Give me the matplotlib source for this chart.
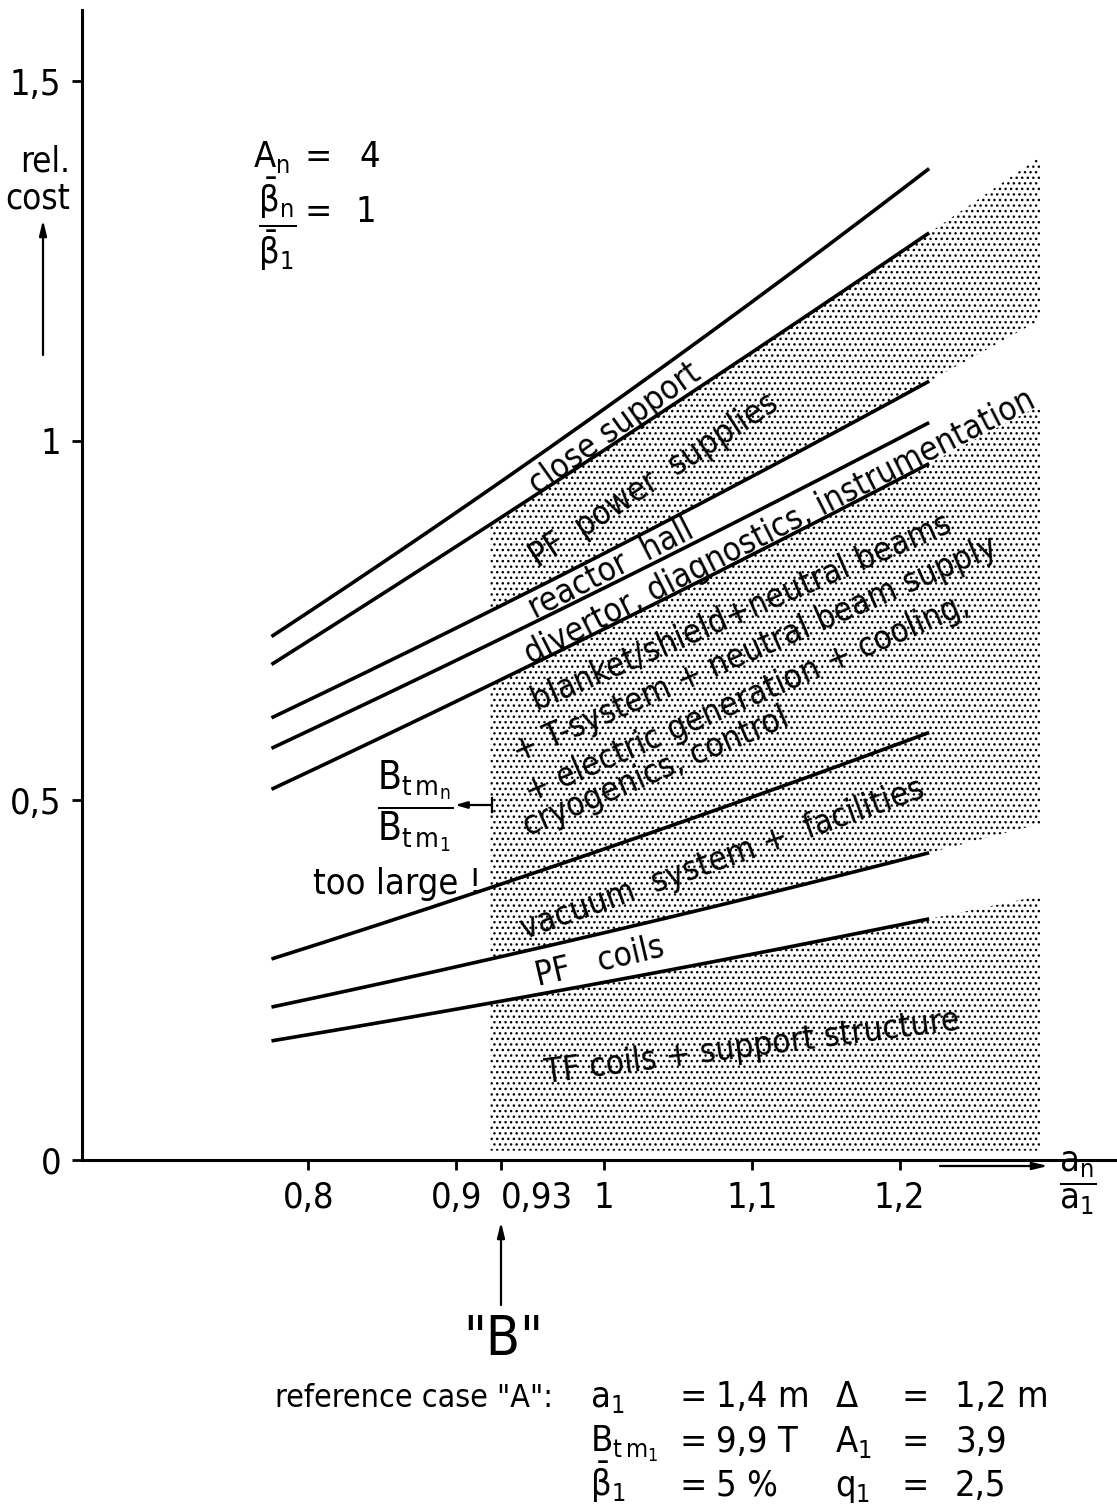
import numpy as np
import matplotlib.pyplot as plt
from matplotlib.lines import Line2D

W, H = 1117, 1511

ratio = [0.775, 0.9, 1.0, 1.1, 1.22]

# relative cost, cumulative curves (top to bottom)
close_support = [0.729, 0.898, 1.045, 1.195, 1.378]
pf_power = [0.690, 0.852, 0.985, 1.127, 1.288]
reactor_hall = [0.615, 0.740, 0.843, 0.951, 1.083]
divertor = [0.573, 0.694, 0.795, 0.900, 1.025]
blanket = [0.516, 0.637, 0.738, 0.843, 0.968]
vacuum = [0.280, 0.362, 0.432, 0.506, 0.594]
pf_coils = [0.213, 0.268, 0.316, 0.366, 0.427]
tf_coils = [0.166, 0.209, 0.247, 0.287, 0.335]

xtick_vals = [0.8, 0.9, 0.93, 1.0, 1.1, 1.2]
xtick_labels = ['0,8', '0,9', '0,93', '1', '1,1', '1,2']
ytick_vals = [0, 0.5, 1.0, 1.5]
ytick_labels = ['0', '0,5', '1', '1,5']

# stippled region in a_n/a_1
shade_from, shade_to = 0.923, 1.295

plt.rcParams['font.family'] = ['DejaVu Sans']
plt.rcParams['font.stretch'] = 'condensed'
plt.rcParams['mathtext.fontset'] = 'dejavusans'
plt.rcParams['mathtext.default'] = 'regular'
plt.rcParams['hatch.linewidth'] = 1.0

# pixels per data unit of the axes below
PX_X, PX_Y = 1478.0, 719.0


def fx(px):
    return px / W


def fy(py):
    return 1 - py / H


def fit(c):
    return np.poly1d(np.polyfit(ratio, c, 2))


def screen_angle(curves, x):
    # mean on-screen angle of the given curves at x
    slopes = [fit(c).deriv()(x) for c in curves]
    return np.degrees(np.arctan(np.mean(slopes) * PX_Y / PX_X))


fig = plt.figure(figsize=(W / 100, H / 100), dpi=100)
ax = fig.add_axes([82 / W, (H - 1160) / H, (W - 82) / W, 1150 / H])
ax.set_xlim(0.6468, 1.3471)
ax.set_ylim(0, 1.5994)
for s in ['top', 'right']:
    ax.spines[s].set_visible(False)
for s in ['left', 'bottom']:
    ax.spines[s].set_linewidth(2.2)

ax.set_xticks(xtick_vals, xtick_labels)
ax.set_yticks(ytick_vals, ytick_labels)
ax.tick_params(axis='both', direction='out', length=7, width=2, labelsize=26, pad=8)
# the 0,93 label sits to the right of its tick
ax.xaxis.get_major_ticks()[2].label1.set_horizontalalignment('left')

# stippled bands
xs = np.linspace(shade_from, shade_to, 200)
bands = [(pf_power, reactor_hall), (blanket, pf_coils), (tf_coils, None)]
for upper, lower in bands:
    up = fit(upper)(xs)
    lo = fit(lower)(xs) if lower is not None else np.full_like(xs, 0.013)
    ax.fill_between(xs, lo, up, facecolor='none', edgecolor='black',
                    hatch='...', linewidth=0)

# curves
xx = np.linspace(ratio[0], ratio[-1], 200)
for c in [close_support, pf_power, reactor_hall, divertor, blanket,
          vacuum, pf_coils, tf_coils]:
    ax.plot(xx, fit(c)(xx), color='black', lw=2.6, solid_capstyle='butt')

# labels along the curves: text, x, y, curves giving the slope
labels = [
    ('close support', 1.007, 1.017, [close_support]),
    ('PF  power  supplies', 1.034, 0.945, [pf_power]),
    ('reactor  hall', 1.005, 0.822, [reactor_hall]),
    ('divertor, diagnostics, instrumentation', 1.119, 0.880, [divertor]),
    ('blanket/shield+neutral beams', 1.093, 0.762, [blanket, vacuum]),
    ('+ T-system + neutral beam supply', 1.102, 0.709, [blanket, vacuum]),
    ('+ electric generation + cooling,', 1.097, 0.642, [blanket, vacuum]),
    ('cryogenics, control', 1.035, 0.540, [blanket, vacuum]),
    ('vacuum  system +  facilities', 1.080, 0.418, [vacuum]),
    ('PF   coils', 0.997, 0.276, [pf_coils]),
    ('TF coils + support structure', 1.100, 0.157, [tf_coils, tf_coils, None]),
]
for text, x, y, follow in labels:
    curves = [c for c in follow if c is not None]
    ang = screen_angle(curves, x) * len(curves) / len(follow)
    ax.text(x, y, text, rotation=ang, rotation_mode='anchor',
            ha='center', va='center', fontsize=24)

# axis captions and arrows
arrow = dict(arrowstyle='-|>,head_length=0.9,head_width=0.22', color='black',
             lw=1.6, shrinkA=0, shrinkB=0)
fig.text(fx(70), fy(180), 'rel.\ncost', ha='right', va='center', fontsize=25,
         linespacing=1.1)
ax.annotate('', xy=(fx(43), fy(220)), xytext=(fx(43), fy(355)),
            xycoords='figure fraction', textcoords='figure fraction',
            arrowprops=arrow)
ax.annotate('', xy=(fx(1048), fy(1166)), xytext=(fx(940), fy(1166)),
            xycoords='figure fraction', textcoords='figure fraction',
            arrowprops=arrow)
fig.text(fx(1078), fy(1183), r'$\dfrac{a_n}{a_1}$', ha='center', va='center',
         fontsize=26)

ax.annotate('', xy=(fx(501), fy(1222)), xytext=(fx(501), fy(1305)),
            xycoords='figure fraction', textcoords='figure fraction',
            arrowprops=arrow)
fig.text(fx(503), fy(1340), '"B"', ha='center', va='center', fontsize=40)

# parameter box top left
fig.text(fx(253), fy(157), r'$A_n$', ha='left', va='center', fontsize=26)
fig.text(fx(318), fy(157), '=', ha='center', va='center', fontsize=26)
fig.text(fx(370), fy(157), '4', ha='center', va='center', fontsize=26)
fig.text(fx(277), fy(224), r'$\dfrac{\bar{\beta}_n}{\bar{\beta}_1}$',
         ha='center', va='center', fontsize=26)
fig.text(fx(318), fy(212), '=', ha='center', va='center', fontsize=26)
fig.text(fx(366), fy(212), '1', ha='center', va='center', fontsize=26)

# B_tm note
fig.text(fx(415), fy(806), r'$\dfrac{B_{t\,m_n}}{B_{t\,m_1}}$', ha='center',
         va='center', fontsize=28)
ax.annotate('', xy=(fx(455), fy(805)), xytext=(fx(492), fy(805)),
            xycoords='figure fraction', textcoords='figure fraction',
            arrowprops=dict(arrowstyle='-|>,head_length=0.7,head_width=0.2',
                            color='black', lw=1.6, shrinkA=0, shrinkB=0))
fig.add_artist(Line2D([fx(492), fx(492)], [fy(798), fy(812)], color='black',
                      lw=1.6))
fig.text(fx(397), fy(884), 'too large !', ha='center', va='center', fontsize=26)

# reference case block
rows = [1407, 1452, 1496]
fig.text(fx(275), fy(rows[0]), 'reference case "A":', ha='left',
         va='baseline', fontsize=23)
col1 = [(r'$a_1$', '1,4 m'), (r'$B_{t\,m_1}$', '9,9 T'), (r'$\bar{\beta}_1$', '5 %')]
col2 = [(r'$\Delta$', '1,2 m'), (r'$A_1$', '3,9'), (r'$q_1$', '2,5')]
for yb, (name, val) in zip(rows, col1):
    fig.text(fx(590), fy(yb), name, ha='left', va='baseline', fontsize=26)
    fig.text(fx(693), fy(yb), '=', ha='center', va='baseline', fontsize=26)
    fig.text(fx(716), fy(yb), val, ha='left', va='baseline', fontsize=26)
for yb, (name, val) in zip(rows, col2):
    fig.text(fx(835), fy(yb), name, ha='left', va='baseline', fontsize=26)
    fig.text(fx(915), fy(yb), '=', ha='center', va='baseline', fontsize=26)
    fig.text(fx(955), fy(yb), val, ha='left', va='baseline', fontsize=26)

fig.savefig('out.png', dpi=100, facecolor='white')
